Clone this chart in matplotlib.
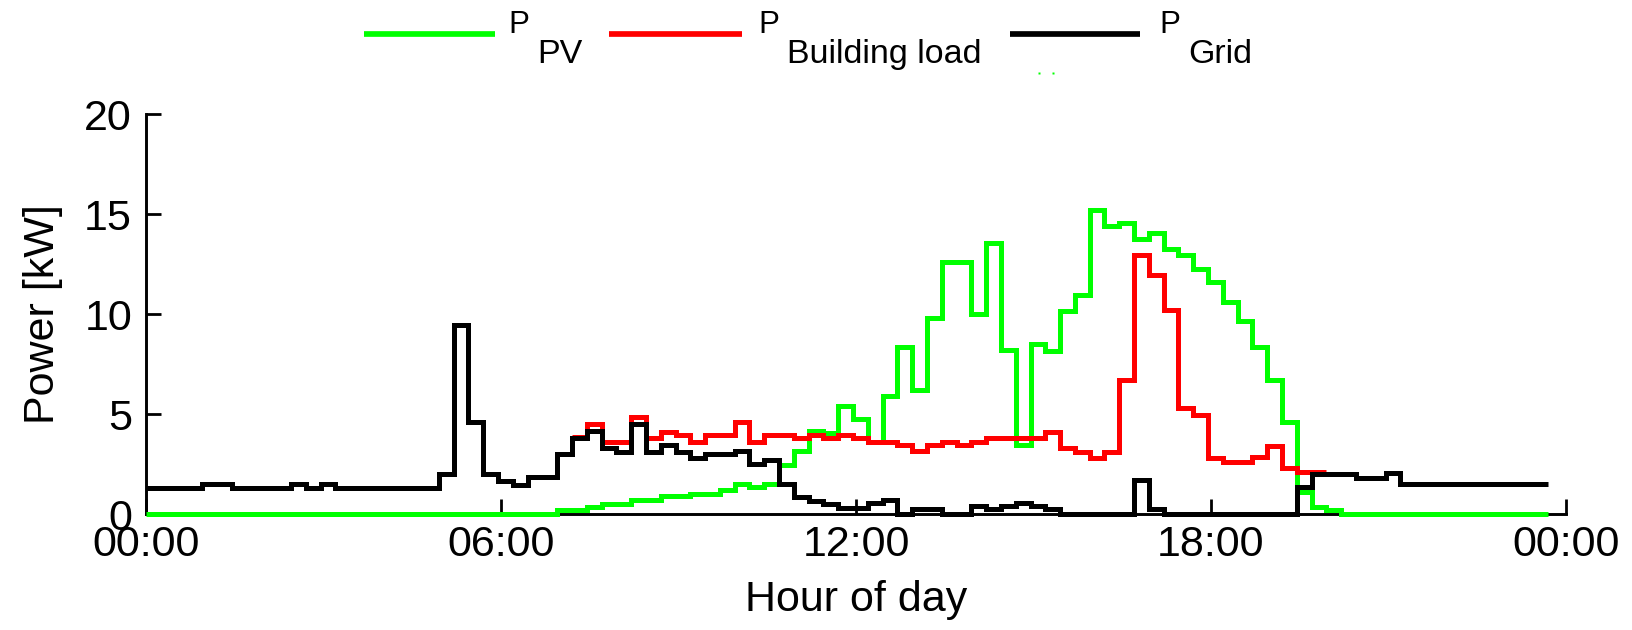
import matplotlib.pyplot as plt
from matplotlib import font_manager
from matplotlib.lines import Line2D

# Step breakpoints (hour of day, kW)
grid_t = [0, 0.95, 1.45, 2.45, 2.7, 2.95, 3.2, 4.95, 5.2, 5.45, 5.7, 5.95, 6.2, 6.45,
          6.95, 7.2, 7.45, 7.7, 7.95, 8.2, 8.45, 8.7, 8.95, 9.2, 9.45, 9.95, 10.2, 10.45,
          10.7, 10.95, 11.2, 11.45, 11.7, 12.2, 12.45, 12.7, 12.95, 13.45, 13.95, 14.2,
          14.45, 14.7, 14.95, 15.2, 15.45, 16.7, 16.95, 17.2, 19.45, 19.7, 20.45, 20.95,
          21.2, 23.7]
grid_kw = [1.3, 1.5, 1.3, 1.5, 1.3, 1.5, 1.3, 2.0, 9.45, 4.6, 2.0, 1.65, 1.45, 1.85,
           3.0, 3.8, 4.15, 3.3, 3.1, 4.5, 3.1, 3.45, 3.1, 2.8, 3.0, 3.15, 2.5, 2.7,
           1.5, 0.85, 0.65, 0.5, 0.3, 0.55, 0.72, 0.0, 0.25, 0.0, 0.4, 0.23,
           0.4, 0.57, 0.4, 0.23, 0.0, 1.7, 0.23, 0.0, 1.33, 2.0, 1.8, 2.03,
           1.48, 1.48]

pv_t = [0, 6.95, 7.45, 7.7, 8.2, 8.7, 9.2, 9.7, 9.95, 10.2, 10.45, 10.7, 10.95, 11.2,
        11.45, 11.7, 11.95, 12.2, 12.45, 12.7, 12.95, 13.2, 13.45, 13.95, 14.2, 14.45,
        14.7, 14.95, 15.2, 15.45, 15.7, 15.95, 16.2, 16.45, 16.7, 16.95, 17.2, 17.45,
        17.7, 17.95, 18.2, 18.45, 18.7, 18.95, 19.2, 19.45, 19.7, 19.95, 20.2, 23.7]
pv_kw = [0, 0.2, 0.37, 0.52, 0.68, 0.9, 1.02, 1.18, 1.5, 1.33, 1.5, 2.45, 3.13, 4.15,
         4.05, 5.42, 4.76, 3.6, 5.9, 8.35, 6.2, 9.8, 12.6, 10.0, 13.55, 8.2,
         3.45, 8.5, 8.15, 10.15, 10.93, 15.2, 14.4, 14.55, 13.75, 14.05, 13.25, 12.93,
         12.27, 11.6, 10.6, 9.64, 8.35, 6.7, 4.58, 1.08, 0.33, 0.2, 0, 0]

load_t = [7.2, 7.45, 7.7, 8.2, 8.45, 8.7, 8.95, 9.2, 9.45, 9.95, 10.2, 10.45, 10.95,
          11.2, 11.45, 11.7, 11.95, 12.2, 12.7, 12.95, 13.2, 13.45, 13.7, 13.95, 14.2,
          15.2, 15.45, 15.7, 15.95, 16.2, 16.45, 16.7, 16.95, 17.2, 17.45, 17.7, 17.95,
          18.2, 18.7, 18.95, 19.2, 19.45, 19.95]
load_kw = [3.85, 4.48, 3.61, 4.86, 3.78, 4.11, 3.94, 3.61, 3.94, 4.61, 3.61, 3.94, 3.78,
           3.94, 3.78, 3.94, 3.78, 3.61, 3.44, 3.14, 3.44, 3.61, 3.44, 3.61, 3.78,
           4.11, 3.28, 3.11, 2.78, 3.11, 6.69, 12.93, 11.93, 10.18, 5.28, 4.94, 2.78,
           2.61, 2.86, 3.41, 2.28, 2.11, 2.11]

x_ticks = [0, 6, 12, 18, 24]
x_tick_labels = ["00:00", "06:00", "12:00", "18:00", "00:00"]
y_ticks = [0, 5, 10, 15, 20]

GREEN = "#00ff00"
RED = "#ff0000"
W, H = 1633, 630

plt.rcParams["font.family"] = ["Liberation Sans", "DejaVu Sans"]

# the y label in the reference is tall and condensed
installed = {f.name for f in font_manager.fontManager.ttflist}
if "Liberation Sans Narrow" in installed:
    ylabel_font = dict(family="Liberation Sans Narrow", fontsize=37)
else:
    ylabel_font = dict(fontsize=31)

fig = plt.figure(figsize=(W / 100, H / 100), dpi=100)
ax = fig.add_axes([146 / W, (H - 514) / H, 1420 / W, 400 / H])

style = dict(drawstyle="steps-post", lw=3.6, solid_joinstyle="miter",
             solid_capstyle="butt", clip_on=False, zorder=3)
ax.plot(pv_t, pv_kw, color=GREEN, **style)
ax.plot(load_t, load_kw, color=RED, **style)
ax.plot(grid_t, grid_kw, color="black", **style)

ax.set_xlim(0, 24)
ax.set_ylim(0, 20)
ax.set_xticks(x_ticks)
ax.set_xticklabels(x_tick_labels)
ax.set_yticks(y_ticks)
ax.tick_params(direction="in", length=11, width=2, labelsize=31)
ax.tick_params(axis="x", pad=8)
ax.tick_params(axis="y", pad=10)

for side in ("top", "right"):
    ax.spines[side].set_visible(False)
for side in ("left", "bottom"):
    ax.spines[side].set_linewidth(2.1)
    ax.spines[side].set_zorder(1)

ax.set_xlabel("Hour of day", fontsize=31)
ax.set_ylabel("Power [kW]", **ylabel_font)
ax.xaxis.set_label_coords(0.5, (514 - 580) / 400)
ax.yaxis.set_label_coords((63 - 146) / 1420, 0.5)


# Legend drawn by hand: the subscripts are as large as the "P"
def px(x, y):
    return x / W, 1 - y / H


legend_items = [
    (GREEN, 364, 495, 508, "PV"),
    (RED, 609, 742, 758, "Building load"),
    ("black", 1010, 1140, 1159, "Grid"),
]
for color, x0, x1, xp, sub in legend_items:
    (a0, b0), (a1, _) = px(x0, 34), px(x1, 34)
    fig.add_artist(Line2D([a0, a1], [b0, b0], color=color, lw=4.1,
                          solid_capstyle="butt"))
    fig.text(*px(xp, 33), "P", fontsize=22.5, va="baseline", ha="left")
    fig.text(*px(xp + 29, 63), sub, fontsize=24.5, va="baseline", ha="left")

# two stray green dots under the legend
d0, d1 = px(1039, 73), px(1053, 73)
fig.add_artist(Line2D([d0[0], d1[0]], [d0[1], d1[1]], ls="none", marker="s",
                      ms=1.6, color=GREEN, mec="none"))

fig.savefig("out.png", dpi=100)
plt.close(fig)
